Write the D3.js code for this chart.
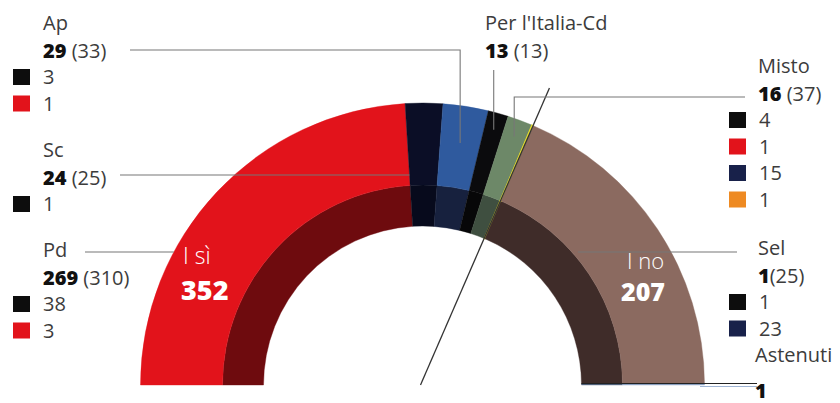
<!DOCTYPE html>
<html>
<head>
<meta charset="utf-8">
<script src="https://cdn.jsdelivr.net/npm/d3@7"></script>
<style>
  body { margin: 0; background: #fff; }
  svg text { font-family: "Open Sans", "Noto Sans", sans-serif; fill: #3c3c3c; }
  .name { font-size: 20px; font-weight: 400; }
  .num { font-size: 20px; }
  .num .b { font-weight: 800; fill: #111; }
  .lg { font-size: 20px; }
  .inside { fill: #fff; }
</style>
</head>
<body>
<div id="chart"></div>
<script>
// seats in the hemicycle, left to right (yes voters by group, then no, then abstained)
var segNames = ["Pd", "Sc", "Ap", "Per l'Italia-Cd", "Misto", "Sel", "No", "Astenuti"];
var segSeats = [269, 24, 29, 13, 16, 1, 207, 1];
var outerColors = ["#e2131b", "#0b0e26", "#2f5a9e", "#0b0b0d", "#6d8868", "#e6dc2a", "#8b6a60", "#8aa0c0"];
var innerColors = ["#6e0b0e", "#070a1c", "#17213e", "#070708", "#3f4f40", "#b9ae22", "#3f2c29", "#50607a"];

var totalYes = 352, totalNo = 207;

// group labels
var labelNames  = ["Ap", "Sc", "Pd", "Per l'Italia-Cd", "Misto", "Sel", "Astenuti"];
var labelYes    = [29, 24, 269, 13, 16, 1, 1];
var labelTotals = [33, 25, 310, 13, 37, 25, null];
var breakdowns  = [
  [["black", 3], ["red", 1]],
  [["black", 1]],
  [["black", 38], ["red", 3]],
  [],
  [["black", 4], ["red", 1], ["navy", 15], ["orange", 1]],
  [["black", 1], ["navy", 23]],
  []
];
var legendColors = {black: "#0d0d0d", red: "#e2131b", navy: "#18214a", orange: "#ee8a22"};

var W = 840, H = 403;
var cx = 422.5, cy = 385;
var rOuter = 282, rMid = 200, rInner = 159;

var svg = d3.select("#chart").append("svg").attr("width", W).attr("height", H);

var pie = d3.pie().sort(null).value(function(d) { return d; })
    .startAngle(-Math.PI / 2).endAngle(Math.PI / 2);
var arcs = pie(segSeats);

var outerArc = d3.arc().innerRadius(rMid).outerRadius(rOuter);
var innerArc = d3.arc().innerRadius(rInner).outerRadius(rMid);

var g = svg.append("g").attr("transform", "translate(" + cx + "," + cy + ")");
g.selectAll("path.in").data(arcs).enter().append("path")
    .attr("class", "in").attr("d", innerArc)
    .attr("fill", function(d, i) { return innerColors[i]; })
    .attr("stroke", function(d, i) { return innerColors[i]; })
    .attr("stroke-width", function(d, i) { return segNames[i] == "Sel" ? 1.2 : 0.4; });
g.selectAll("path.out").data(arcs).enter().append("path")
    .attr("class", "out").attr("d", outerArc)
    .attr("fill", function(d, i) { return outerColors[i]; })
    .attr("stroke", function(d, i) { return outerColors[i]; })
    .attr("stroke-width", function(d, i) { return segNames[i] == "Sel" ? 1.2 : 0.4; });

// point at pie angle a (0 = top, clockwise) and radius r, in page coords
function pt(a, r) { return [cx + r * Math.sin(a), cy - r * Math.cos(a)]; }
function mid(i) { return (arcs[i].startAngle + arcs[i].endAngle) / 2; }
// x on a ray at angle a where it crosses height y
function xAtY(a, y) { var r = (cy - y) / Math.cos(a); return pt(a, r)[0]; }

// dividing line between yes and no
var split = arcs[5].endAngle;
var pEnd = pt(split, 323);
svg.append("line").attr("x1", cx - 2).attr("y1", cy).attr("x2", pEnd[0]).attr("y2", pEnd[1])
    .attr("stroke", "#333").attr("stroke-width", 1.3);

var lineColor = "#777";
function poly(points) {
  svg.append("path").attr("d", d3.line()(points))
      .attr("fill", "none").attr("stroke", lineColor).attr("stroke-width", 1.1);
}

// connectors
var apA = pt(mid(2), 245);
poly([[apA[0], apA[1]], [apA[0], 50], [130, 50]]);
poly([[120, 175], [xAtY(arcs[1].startAngle, 175), 175]]);
poly([[85, 252], [cx - Math.sqrt(rOuter * rOuter - (cy - 252) * (cy - 252)), 252]]);
var picA = pt(mid(3), 265);
poly([[picA[0], picA[1]], [picA[0], 70]]);
var misA = pt(mid(4), 265);
poly([[misA[0], misA[1]], [misA[0], 97], [745, 97]]);
poly([[cx + Math.sqrt(rMid * rMid - (cy - 252) * (cy - 252)) + 6, 252], [737, 252]]);
svg.append("line").attr("x1", cx + rInner).attr("y1", 383.5).attr("x2", 757).attr("y2", 383.5)
    .attr("stroke", "#222").attr("stroke-width", 1.2);
svg.append("line").attr("x1", 700).attr("y1", 386.5).attr("x2", 757).attr("y2", 386.5)
    .attr("stroke", "#9fb4d4").attr("stroke-width", 1.2);

// label blocks: x, baseline y of name, x of legend squares
var blocks = [
  {x: 43, y: 30, sq: 13},
  {x: 43, y: 157, sq: 13},
  {x: 43, y: 257, sq: 13},
  {x: 485, y: 30, sq: 0},
  {x: 758, y: 73, sq: 729},
  {x: 758, y: 255, sq: 729},
  {x: 755, y: 362, sq: 0, gap: 36}
];
var step = 26.5;

blocks.forEach(function(b, i) {
  svg.append("text").attr("class", "name").attr("x", b.x).attr("y", b.y).text(labelNames[i]);
  var t = svg.append("text").attr("class", "num").attr("x", b.x).attr("y", b.y + (b.gap || step + 1));
  t.append("tspan").attr("class", "b").text(labelYes[i]);
  if (labelTotals[i] != null) {
    t.append("tspan").text((labelYes[i] >= 10 ? " " : "") + "(" + labelTotals[i] + ")");
  }
  breakdowns[i].forEach(function(e, j) {
    var y = b.y + step * (j + 2) + 1;
    svg.append("rect").attr("x", b.sq).attr("y", y - 15).attr("width", 17).attr("height", 16)
        .attr("fill", legendColors[e[0]]);
    svg.append("text").attr("class", "lg").attr("x", b.sq + 30).attr("y", y).text(e[1]);
  });
});

// totals inside the arc
svg.append("text").attr("class", "inside").attr("x", 183).attr("y", 264)
    .style("font-size", "23px").style("font-weight", 300).text("I sì");
svg.append("text").attr("class", "inside").attr("x", 181).attr("y", 300)
    .style("font-size", "27px").style("font-weight", 800).text(totalYes);
svg.append("text").attr("class", "inside").attr("x", 627).attr("y", 269)
    .style("font-size", "22px").style("font-weight", 300).text("I no");
svg.append("text").attr("class", "inside").attr("x", 621).attr("y", 301)
    .style("font-size", "25px").style("font-weight", 800).text(totalNo);
</script>
</body>
</html>
